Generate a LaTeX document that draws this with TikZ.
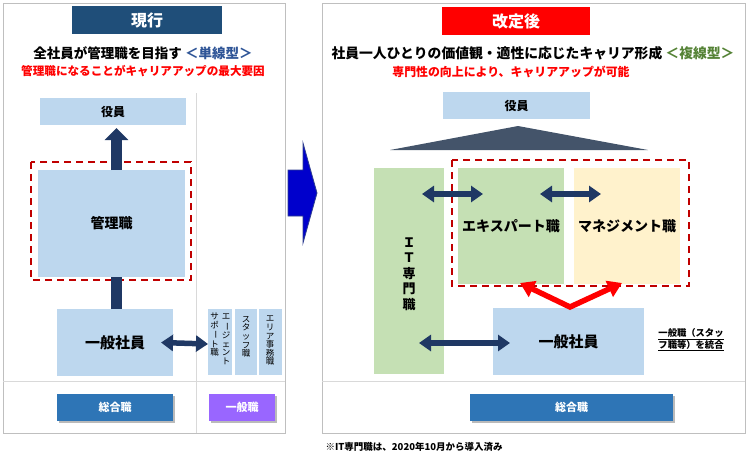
\documentclass[tikz,border=0pt]{standalone}
\usepackage{fontspec}
\usepackage{graphicx}
\setmainfont{Noto Sans CJK JP}
\usetikzlibrary{arrows.meta,shadows}
\definecolor{lblue}{HTML}{BDD7EE}
\definecolor{lgreen}{HTML}{C5E0B4}
\definecolor{lyellow}{HTML}{FFF2CC}
\definecolor{navyt}{HTML}{1F4E79}
\definecolor{redt}{HTML}{FF0000}
\definecolor{sogo}{HTML}{2E75B6}
\definecolor{purp}{HTML}{9966FF}
\definecolor{slate}{HTML}{44546A}
\definecolor{arrnavy}{HTML}{1F3864}
\definecolor{dashred}{HTML}{C00000}
\definecolor{bluet}{HTML}{2F5597}
\definecolor{greent}{HTML}{548235}
\definecolor{bigblue}{HTML}{0000CC}
\definecolor{bigedge}{HTML}{2F3F8F}
\definecolor{panelgray}{HTML}{BFBFBF}
\definecolor{divgray}{HTML}{D9D9D9}
\newcommand{\vbar}{\rotatebox[origin=c]{-90}{ー}}
\begin{document}
\begin{tikzpicture}[x=1pt,y=-1pt,
  rect/.style={rectangle, inner sep=0pt, outer sep=0pt},
  panel/.style={rect, draw=panelgray, line width=0.8pt},
  divider/.style={draw=divgray, line width=0.8pt},
  dashbox/.style={draw=dashred, line width=2pt, dash pattern=on 7pt off 5pt},
  shad/.style={drop shadow={shadow xshift=1.5pt, shadow yshift=-1.8pt, opacity=0.45, fill=black!60}},
  dbl/.style={draw=arrnavy, line width=5.5pt, arrows={Triangle[width=16pt,length=12pt]-Triangle[width=16pt,length=12pt]}},
  bigup/.style={draw=arrnavy, line width=11pt, arrows={-Triangle[width=23pt,length=12pt]}},
  redv/.style={draw=redt, line width=5.5pt, line join=miter, arrows={Triangle[width=17pt,length=14pt]-Triangle[width=17pt,length=14pt]}},
  vtext/.style={inner sep=0pt, align=center, anchor=north, font=\fontsize{8.5}{8.6}\selectfont}
]
\useasboundingbox (0,0) rectangle (750,458);

% panels
\node[panel, minimum width=282pt, minimum height=430pt] (pL) at (144,218) {};
\node[panel, minimum width=423pt, minimum height=430pt] (pR) at (533.5,218) {};
\draw[divider] (196,93) -- (196,433);
\draw[divider] (3,381) -- (285,381);
\draw[divider] (322,381) -- (745,381);

% titles
\node[rect, fill=navyt, minimum width=150pt, minimum height=28pt, text=white, font=\bfseries\fontsize{16}{16}\selectfont] (ttlL) at (147,20) {現行};
\node[rect, fill=redt, minimum width=148pt, minimum height=28pt, text=white, font=\bfseries\fontsize{16}{16}\selectfont] (ttlR) at (516,21) {改定後};

\node[font=\bfseries\fontsize{13.5}{14}\selectfont] (h1L) at (143,53) {全社員が管理職を目指す \textcolor{bluet}{＜単線型＞}};
\node[font=\bfseries\fontsize{11.6}{12}\selectfont, text=redt] (h2L) at (143,71) {管理職になることがキャリアアップの最大要因};
\node[font=\bfseries\fontsize{13.8}{14}\selectfont] (h1R) at (533,53) {社員一人ひとりの価値観・適性に応じたキャリア形成 \textcolor{greent}{＜複線型＞}};
\node[font=\bfseries\fontsize{11.9}{12}\selectfont, text=redt] (h2R) at (511,72) {専門性の向上により、キャリアアップが可能};

% left side
\node[rect, fill=lblue, minimum width=146pt, minimum height=27pt, font=\bfseries\fontsize{12}{12}\selectfont] (yakL) at (113,111.5) {役員};
\node[rect, fill=lblue, minimum width=147pt, minimum height=107pt, font=\bfseries\fontsize{14}{14}\selectfont] (kanri) at (111.5,223.5) {管理職};
\node[rect, fill=lblue, minimum width=116pt, minimum height=67pt, font=\bfseries\fontsize{15}{15}\selectfont] (lgen) at (115,342.5) {一般社員};
\node[rect, fill=lblue, minimum width=24pt, minimum height=66pt] (agent) at (220,342) {};
\node[rect, fill=lblue, minimum width=22pt, minimum height=66pt] (staff) at (246,342) {};
\node[rect, fill=lblue, minimum width=23pt, minimum height=66pt] (area) at (270,342) {};
\node[vtext] (agent1) at (226,314) {エ\\\vbar\\ジ\\ェ\\ン\\ト};
\node[vtext] (agent2) at (214.5,313) {サ\\ポ\\\vbar\\ト\\職};
\node[vtext] (staff1) at (246,316) {ス\\タ\\ッ\\フ\\職};
\node[vtext] (area1) at (270,316) {エ\\リ\\ア\\事\\務\\職};

\node[rect, fill=sogo, shad, minimum width=116pt, minimum height=27pt, text=white, font=\bfseries\fontsize{11}{11}\selectfont] (sogoL) at (115,407.5) {総合職};
\node[rect, fill=purp, shad, minimum width=66pt, minimum height=27pt, text=white, font=\bfseries\fontsize{11}{11}\selectfont] (ippanL) at (242,407.5) {一般職};

\draw[dashbox] (31,162) rectangle (191,280);
\draw[draw=arrnavy, line width=11pt] ([xshift=1.5pt]lgen.north) -- ([xshift=5pt]kanri.south);
\draw[bigup] ([xshift=5pt]kanri.north) -- ([xshift=3.5pt, yshift=-3pt]yakL.south);
\draw[dbl] ([xshift=-12pt]lgen.east) -- ([yshift=-2pt]agent.west);

% big arrow
\draw[fill=bigblue, draw=bigedge, line width=0.8pt] (288,170) -- (303,170) -- (303,143) -- (317,193) -- (303,243) -- (303,216) -- (288,216) -- cycle;

% right side
\node[rect, fill=lblue, minimum width=147pt, minimum height=27pt, font=\bfseries\fontsize{12}{12}\selectfont] (yakR) at (516.5,105.5) {役員};
\fill[slate] (390,150) -- (518,126) -- (648,150) -- cycle;
\node[rect, fill=lgreen, minimum width=70pt, minimum height=206pt] (IT) at (409,271) {};
\node[inner sep=0pt, align=center, font=\bfseries\fontsize{13}{15.5}\selectfont] (ITl) at (409,274) {Ｉ\\Ｔ\\専\\門\\職};
\node[rect, fill=lgreen, minimum width=106pt, minimum height=116pt, font=\bfseries\fontsize{14}{14}\selectfont] (expert) at (511,226) {エキスパート職};
\node[rect, fill=lyellow, minimum width=106pt, minimum height=116pt, font=\bfseries\fontsize{14}{14}\selectfont] (mgmt) at (627,226) {マネジメント職};
\node[rect, fill=lblue, minimum width=151pt, minimum height=67pt, font=\bfseries\fontsize{15}{15}\selectfont] (genR) at (568.5,341.5) {一般社員};
\node[align=left, inner sep=0pt, font=\bfseries\fontsize{9.3}{11.5}\selectfont] (note) at (691,340) {\underline{一般職（スタッ}\\\underline{フ職等）を統合}};
\node[rect, fill=sogo, shad, minimum width=203pt, minimum height=27pt, text=white, font=\bfseries\fontsize{11}{11}\selectfont] (sogoR) at (571.5,407.5) {総合職};

\draw[dashbox] (452,160) rectangle (689,286);
\draw[dbl] ([xshift=-22pt, yshift=-26pt]IT.north east) -- ([xshift=25pt, yshift=-26pt]expert.north west);
\draw[dbl] ([xshift=-24pt, yshift=-26pt]expert.north east) -- ([xshift=27pt, yshift=-26pt]mgmt.north west);
\draw[dbl] ([xshift=-25pt, yshift=31pt]IT.south east) -- ([xshift=17pt, yshift=-1.5pt]genR.west);
\draw[redv] ([xshift=9pt, yshift=1pt]expert.south) -- ([xshift=1.5pt, yshift=1pt]genR.north) -- ([xshift=-5pt, yshift=1pt]mgmt.south);

\node[anchor=west, font=\bfseries\fontsize{9.5}{10}\selectfont] (fn) at (322,447) {※IT専門職は、2020年10月から導入済み};
\end{tikzpicture}
\end{document}
